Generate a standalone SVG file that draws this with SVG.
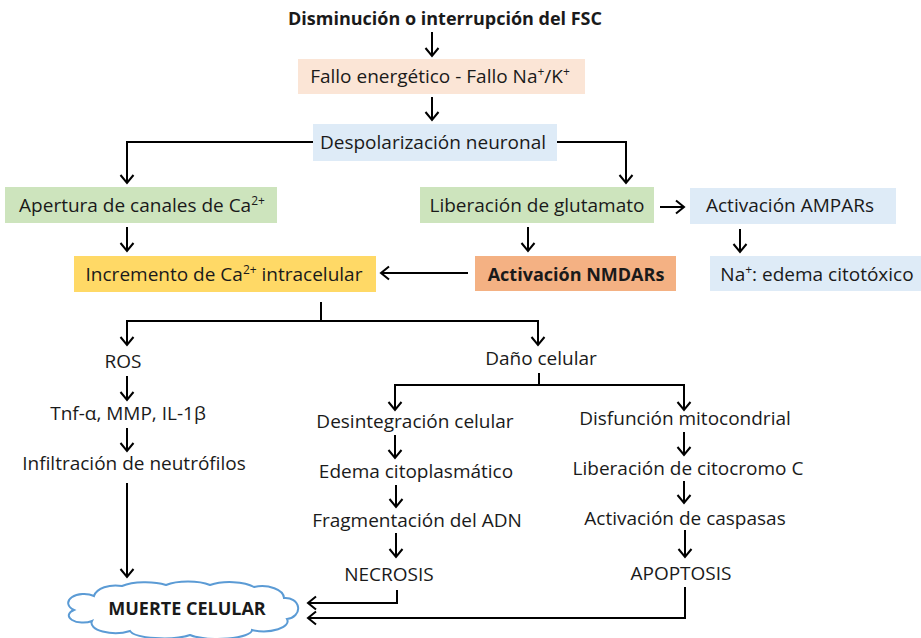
<svg xmlns="http://www.w3.org/2000/svg" width="921" height="638" viewBox="0 0 921 638">
<defs>
<marker id="ah" markerUnits="userSpaceOnUse" markerWidth="16" markerHeight="16" viewBox="-10 -8 12 16" refX="0" refY="0" orient="auto">
<path d="M-8,-6.5 L0,0 L-8,6.5" fill="none" stroke="#000" stroke-width="2" stroke-linejoin="miter"/>
</marker>
<style>
text{font-family:"Open Sans","Noto Sans",sans-serif;font-size:19px;fill:#1a1a1a;text-anchor:middle}
.b{font-weight:bold}
.t18{font-size:18px}
.sup{font-size:12px}
.box{stroke:none}
.peach{fill:#fbe5d6}.blue{fill:#deebf7}.green{fill:#cde4bd}.yellow{fill:#ffd966}.orange{fill:#f4b183}
#connectors path{fill:none;stroke:#000;stroke-width:2}
.arr{marker-end:url(#ah)}
</style>
</defs>
<rect width="921" height="638" fill="#fff"/>

<g id="connectors">
<path class="arr" d="M432,32 V56"/>
<path class="arr" d="M432,97 V120"/>
<path class="arr" d="M313,142 H127 V183"/>
<path class="arr" d="M557,142 H626 V183"/>
<path class="arr" d="M660,207 H684"/>
<path class="arr" d="M127,227 V251"/>
<path class="arr" d="M528,227 V251"/>
<path class="arr" d="M740,229 V252"/>
<path class="arr" d="M468,273 H381"/>
<path d="M321,302 V321"/>
<path class="arr" d="M127,345 V321 H538 V345"/>
<path class="arr" d="M127,321 V345"/>
<path class="arr" d="M127,376 V400"/>
<path class="arr" d="M127,428 V451"/>
<path class="arr" d="M127,483 V577"/>
<path d="M539,373 V385"/>
<path class="arr" d="M395,410 V385 H684 V410"/>
<path class="arr" d="M395,385 V410"/>
<path class="arr" d="M395,435 V458"/>
<path class="arr" d="M396,485 V507"/>
<path class="arr" d="M396,533 V557"/>
<path class="arr" d="M397,590 V603 H308"/>
<path class="arr" d="M684,432 V455"/>
<path class="arr" d="M684,481 V503"/>
<path class="arr" d="M685,530 V557"/>
<path class="arr" d="M685,587 V618 H308"/>
</g>

<g id="title"><text class="b t18" x="445" y="25">Disminución o interrupción del FSC</text></g>

<g id="fallo"><rect class="box peach" x="298" y="59" width="287" height="35"/>
<text x="440" y="83">Fallo energético - Fallo Na<tspan class="sup" dy="-7">+</tspan><tspan dy="7">/K</tspan><tspan class="sup" dy="-7">+</tspan></text></g>

<g id="despol"><rect class="box blue" x="313" y="124" width="244" height="37"/>
<text x="433" y="149">Despolarización neuronal</text></g>

<g id="apertura"><rect class="box green" x="5" y="187" width="272" height="36"/>
<text x="142" y="212">Apertura de canales de Ca<tspan class="sup" dy="-7">2+</tspan></text></g>

<g id="glutamato"><rect class="box green" x="420" y="187" width="234" height="36"/>
<text x="537" y="212">Liberación de glutamato</text></g>

<g id="ampars"><rect class="box blue" x="690" y="188" width="206" height="36"/>
<text x="790" y="212">Activación AMPARs</text></g>

<g id="incremento"><rect class="box yellow" x="74" y="256" width="302" height="36"/>
<text x="224" y="281">Incremento de Ca<tspan class="sup" dy="-7">2+</tspan><tspan dy="7"> intracelular</tspan></text></g>

<g id="nmdars"><rect class="box orange" x="475" y="256" width="201" height="35"/>
<text class="b t18" x="576" y="281">Activación NMDARs</text></g>

<g id="edema-cito"><rect class="box blue" x="710" y="256" width="211" height="35"/>
<text x="817" y="281">Na<tspan class="sup" dy="-7">+</tspan><tspan dy="7">: edema citotóxico</tspan></text></g>

<g id="ros"><text x="123" y="368">ROS</text></g>
<g id="tnf"><text x="128" y="420">Tnf-α, MMP, IL-1β</text></g>
<g id="infiltracion"><text x="134" y="470">Infiltración de neutrófilos</text></g>
<g id="dano"><text x="541" y="365">Daño celular</text></g>
<g id="desintegracion"><text x="415" y="428">Desintegración celular</text></g>
<g id="edema-citoplasmatico"><text x="416" y="478">Edema citoplasmático</text></g>
<g id="fragmentacion"><text x="417" y="527">Fragmentación del ADN</text></g>
<g id="necrosis"><text x="389" y="581">NECROSIS</text></g>
<g id="disfuncion"><text x="685" y="425">Disfunción mitocondrial</text></g>
<g id="citocromo"><text x="688" y="475">Liberación de citocromo C</text></g>
<g id="caspasas"><text x="685" y="525">Activación de caspasas</text></g>
<g id="apoptosis"><text x="681" y="580">APOPTOSIS</text></g>

<g id="muerte">
<path d="M94,596 A22,13 0 0 1 122,586 A30,10 0 0 1 166,585 A28,9 0 0 1 210,585 A28,10 0 0 1 254,587 A22,12 0 0 1 284,598 A12,10 0 0 1 287,619 A24,10 0 0 1 252,630 A34,9 0 0 1 190,635 A34,9 0 0 1 130,631 A24,10 0 0 1 92,621 A12,6 0 0 1 74,610 A14,8 0 0 1 94,596 Z" fill="#fff" stroke="#5b9bd5" stroke-width="2"/>
<text class="b t18" x="187" y="615">MUERTE CELULAR</text>
</g>
</svg>
